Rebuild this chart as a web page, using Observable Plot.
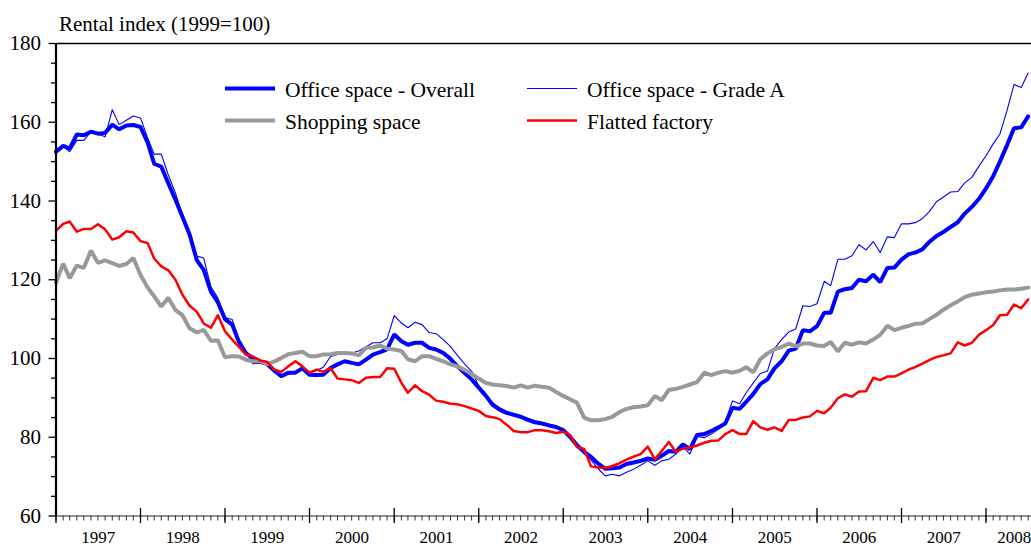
<!DOCTYPE html>
<html><head><meta charset="utf-8">
<script src="https://cdn.jsdelivr.net/npm/d3@7"></script>
<script src="https://cdn.jsdelivr.net/npm/@observablehq/plot@0.6"></script>
<style>
html,body{margin:0;padding:0;background:#fff;overflow:hidden;}
#wrap{position:relative;width:1031px;height:546px;overflow:hidden;}
#wrap svg{max-width:none !important;}
</style></head><body><div id="wrap"></div>
<script>
// ---- data (monthly, Jan 1997 onwards) ----
const title = "Rental index (1999=100)";
const seriesNames = ["Office space - Overall", "Office space - Grade A", "Shopping space", "Flatted factory"];
const officeOverall = [
152.5,154.0,153.3,156.9,156.7,157.6,157.1,157.3,159.4,158.2,159.2,159.3,
158.8,154.8,149.5,148.7,144.5,140.3,136.0,131.5,125.0,122.5,117.0,114.3,
110.0,108.6,104.4,101.4,100.1,99.3,98.6,97.0,95.5,96.4,96.4,97.5,
95.9,95.8,95.9,97.6,98.5,99.3,98.9,98.5,99.7,101.0,101.6,102.3,
106.1,104.4,103.5,104.0,104.0,102.7,102.3,101.4,99.9,98.0,96.3,94.7,
92.6,90.5,88.3,87.0,86.2,85.7,85.2,84.4,83.8,83.5,83.0,82.6,
81.8,80.0,78.0,76.3,75.0,73.3,72.0,72.1,72.3,73.2,73.6,74.0,
74.6,74.3,75.3,76.5,76.3,78.2,77.0,80.6,80.8,81.6,82.5,83.5,
87.5,87.2,89.0,91.0,93.5,94.7,97.5,99.3,102.0,102.5,107.2,106.9,
108.2,111.6,111.6,117.0,117.6,117.9,120.0,119.6,121.3,119.4,123.0,123.1,
125.1,126.5,126.9,127.7,129.6,131.1,132.1,133.4,134.6,136.8,138.5,140.5,
143.2,146.3,150.0,154.2,158.5,158.7,161.5];
const officeGradeA = [
152.5,154.0,152.5,155.4,155.4,157.6,157.0,156.3,163.2,159.4,160.5,161.6,
161.1,156.0,151.9,151.9,146.6,142.0,136.5,132.3,126.0,125.5,118.2,115.4,
110.4,109.9,105.0,101.8,98.7,98.8,98.3,96.5,95.2,96.0,96.4,97.3,
96.2,97.0,97.8,100.5,101.0,101.4,101.4,101.9,103.0,104.0,104.0,105.0,
110.9,109.0,107.8,109.2,108.6,106.6,106.3,104.8,103.0,100.8,98.6,96.8,
93.0,90.9,88.8,87.5,86.6,86.0,85.5,84.8,84.2,83.7,83.2,82.7,
81.6,79.8,77.6,75.8,74.2,72.0,70.2,70.6,70.2,71.1,71.9,72.9,
74.0,72.9,74.0,74.4,75.7,77.6,75.7,80.2,79.9,80.8,82.0,84.0,
89.2,88.5,91.3,93.8,96.2,96.8,102.5,104.8,106.7,107.5,113.4,113.2,
113.9,119.6,118.5,125.2,125.2,126.1,128.9,127.6,129.7,126.9,130.9,130.7,
134.2,134.2,134.5,135.5,137.3,139.8,141.0,142.3,142.4,144.6,146.0,148.8,
151.5,154.5,157.0,163.0,169.6,168.8,172.5];
const shoppingSpace = [
119.3,124.1,120.4,123.6,123.0,127.4,124.3,124.9,124.2,123.5,124.0,125.5,
121.2,118.0,115.8,113.2,115.4,112.3,111.0,107.7,106.6,107.3,104.5,104.6,
100.3,100.6,100.5,99.7,99.3,99.3,98.6,99.2,100.1,101.1,101.4,101.7,
100.6,100.6,101.0,101.1,101.4,101.4,101.3,100.8,102.7,102.8,103.3,102.5,
102.3,101.9,99.8,99.3,100.6,100.6,99.9,99.3,98.5,98.0,97.1,96.1,
94.9,93.8,93.4,93.2,93.0,92.6,93.2,92.6,93.1,92.8,92.6,91.5,
90.5,89.6,88.8,85.0,84.3,84.3,84.6,85.2,86.4,87.2,87.6,87.8,
88.1,90.5,89.4,92.0,92.3,92.8,93.4,94.0,96.4,95.8,96.4,96.8,
96.4,96.9,97.8,96.5,99.8,101.3,102.3,102.9,103.8,103.1,103.8,103.8,
103.3,103.2,104.2,101.8,104.0,103.5,104.1,103.8,104.8,106.0,108.3,107.2,
107.8,108.3,108.8,108.9,110.0,111.1,112.4,113.5,114.5,115.6,116.2,116.5,
116.8,117.0,117.3,117.5,117.5,117.7,118.0];
const flattedFactory = [
132.4,134.2,134.8,132.2,132.9,132.9,134.1,132.8,130.2,130.8,132.3,132.0,
129.8,129.3,125.4,123.4,122.4,120.0,116.2,113.4,111.9,108.9,107.8,111.0,
106.9,104.8,103.0,101.0,100.5,99.5,99.2,97.2,96.6,98.0,99.3,98.0,
96.4,97.2,96.6,97.6,94.9,94.7,94.5,93.8,95.1,95.3,95.3,97.5,
97.4,93.8,91.3,93.2,91.7,90.8,89.3,89.0,88.5,88.4,87.9,87.3,
86.7,85.4,85.1,84.6,83.2,81.6,81.3,81.3,81.8,81.8,81.5,81.1,
81.4,80.5,77.5,77.0,72.6,72.3,72.2,72.7,73.4,74.3,75.1,75.7,
77.6,74.4,76.5,78.8,76.3,77.1,77.4,77.9,78.6,79.1,79.2,80.8,
81.8,80.8,80.8,84.1,82.5,81.9,82.5,81.6,84.4,84.4,85.0,85.3,
86.7,86.1,87.5,89.9,90.9,90.3,91.6,91.7,95.1,94.5,95.4,95.4,
96.2,97.2,97.8,98.7,99.6,100.4,100.8,101.3,104.1,103.3,104.0,106.0,
107.2,108.5,111.0,111.1,113.7,112.8,115.0];
const yearLabels = [1997,1998,1999,2000,2001,2002,2003,2004,2005,2006,2007,2008];
const yTickValues = [60,80,100,120,140,160,180];
const yMinorValues = [65,70,75,85,90,95,105,110,115,125,130,135,145,150,155,165,170,175];

// ---- build ----
const firstYear = 1997;
const monthDate = i => new Date(Date.UTC(firstYear, i, 1));
const toRows = (arr, name) => arr.map((v, i) => ({date: monthDate(i), value: v, series: name}));
const rowsOverall = toRows(officeOverall, seriesNames[0]);
const rowsGradeA = toRows(officeGradeA, seriesNames[1]);
const rowsShop = toRows(shoppingSpace, seriesNames[2]);
const rowsFactory = toRows(flattedFactory, seriesNames[3]);

const xStart = new Date(Date.UTC(1997, 0, 1));
const xEnd = new Date(Date.UTC(2008, 8, 1));
const yearStarts = yearLabels.map(y => new Date(Date.UTC(y, 0, 1)));
const monthTicks = d3.utcMonth.range(xStart, xEnd);
const labelDates = yearLabels.map(y => {
  const a = Math.max(+new Date(Date.UTC(y, 0, 1)), +xStart);
  const b = Math.min(+new Date(Date.UTC(y + 1, 0, 1)), +xEnd);
  return new Date((a + b) / 2);
});

const FONT = "'Liberation Serif', 'Times New Roman', Times, serif";
const colors = {overall: "#0000ff", gradeA: "#0000ff", shop: "#999999", factory: "#ff0000"};

const chart = Plot.plot({
  width: 1042,
  height: 546,
  marginTop: 43,
  marginBottom: 30.5,
  marginLeft: 55.5,
  marginRight: 0,
  style: {fontFamily: FONT, fontSize: "21px", color: "#000", background: "#fff", overflow: "visible", maxWidth: "none"},
  x: {type: "utc", domain: [xStart, xEnd]},
  y: {domain: [60, 180]},
  marks: [
    Plot.ruleY([180], {stroke: "#000", strokeWidth: 1.5}),
    Plot.lineY(rowsOverall, {x: "date", y: "value", stroke: colors.overall, strokeWidth: 4, strokeLinejoin: "miter"}),
    Plot.lineY(rowsGradeA, {x: "date", y: "value", stroke: colors.gradeA, strokeWidth: 1.1}),
    Plot.lineY(rowsShop, {x: "date", y: "value", stroke: colors.shop, strokeWidth: 4, strokeLinejoin: "miter"}),
    Plot.lineY(rowsFactory, {x: "date", y: "value", stroke: colors.factory, strokeWidth: 2.5}),
    // y axis
    Plot.axisY(yTickValues, {tickSize: 7, tickPadding: 8, fontSize: 21, strokeWidth: 1.3, label: null}),
    Plot.axisY(yMinorValues, {tickSize: 4.5, tickFormat: () => "", strokeWidth: 1.3, label: null}),
    Plot.ruleY([60], {stroke: "#222", strokeWidth: 1}),
    // x axis
    Plot.axisX(monthTicks, {tickSize: 5, tickFormat: () => "", strokeWidth: 1, stroke: "#333", label: null}),
    Plot.axisX(yearStarts, {tickSize: 15, dy: -7.5, tickFormat: () => "", strokeWidth: 1.3, label: null}),
    Plot.axisX(labelDates, {tickSize: 0, tickPadding: 15, fontSize: 17, label: null, tickFormat: d => String(d.getUTCFullYear())}),
    Plot.ruleX([xStart], {stroke: "#000", strokeWidth: 2.2})
  ]
});

document.getElementById("wrap").appendChild(chart);

// ---- title & legend ----
const svg = d3.select(chart);
svg.append("text").attr("x", 59).attr("y", 31).attr("text-anchor", "start")
  .attr("font-family", FONT).attr("font-size", 21).attr("fill", "#000").text(title);

const legendItems = [
  {name: seriesNames[0], color: colors.overall, w: 4, col: 0, row: 0},
  {name: seriesNames[1], color: colors.gradeA, w: 1.1, col: 1, row: 0},
  {name: seriesNames[2], color: colors.shop, w: 4, col: 0, row: 1},
  {name: seriesNames[3], color: colors.factory, w: 2.5, col: 1, row: 1}
];
const legCols = [225, 527], legRows = [88.5, 120.5];
const lg = svg.append("g").attr("font-family", FONT).attr("font-size", 21.5).attr("text-anchor", "start");
legendItems.forEach(d => {
  const x0 = legCols[d.col], y0 = legRows[d.row];
  lg.append("line").attr("x1", x0).attr("x2", x0 + 50).attr("y1", y0).attr("y2", y0)
    .attr("stroke", d.color).attr("stroke-width", d.w);
  lg.append("text").attr("x", x0 + 60).attr("y", y0 + 8).attr("fill", "#000").text(d.name);
});
</script></body></html>
